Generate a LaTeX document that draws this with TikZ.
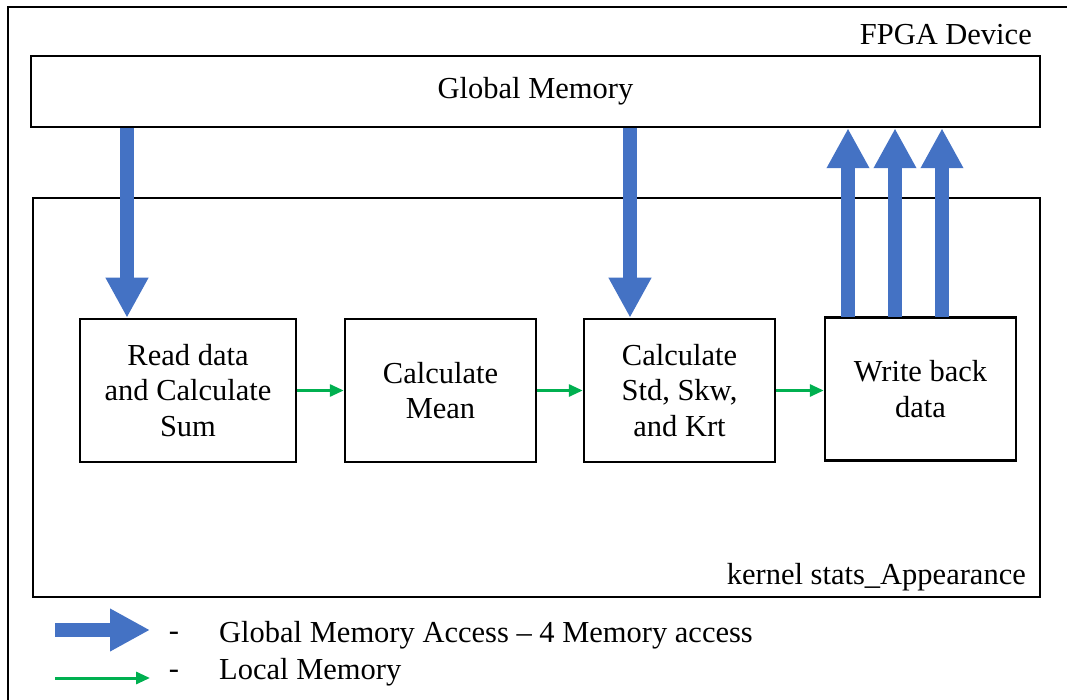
\documentclass[tikz,border=0pt]{standalone}
\usepackage{fontspec}
\setmainfont{Liberation Serif}
\newfontfamily\diagfont{Liberation Serif}
\usetikzlibrary{arrows.meta}
\definecolor{gblue}{HTML}{4472C4}
\definecolor{lgreen}{HTML}{00B050}
\begin{document}
\begin{tikzpicture}[x=1pt,y=-1pt,
  every node/.style={font=\diagfont\fontsize{30.5}{35.5}\selectfont, inner sep=0pt},
  frame/.style={draw=black, line width=2.5pt},
  block/.style={frame, align=center, minimum width=214pt, minimum height=143pt},
  midblock/.style={frame, align=center, minimum width=191pt, minimum height=143pt},
  bigarrow/.style={draw=gblue, line width=14pt, -{Triangle[width=40pt,length=40pt]}},
  localarrow/.style={draw=lgreen, line width=3pt, -{Triangle[width=12pt,length=14pt]}}]
\useasboundingbox (0,0) rectangle (1067,700);
\begin{scope}
\clip (0,0) rectangle (1067,700);
\draw[draw=black, line width=2.5pt] (8,7) rectangle (1090,720);
\end{scope}
\node[anchor=east] (fpga) at (1032,35) {FPGA Device};
\node[frame, minimum width=1009pt, minimum height=71pt] (gm) at (535.5,91.5) {\raisebox{-2pt}{Global Memory}};
\node[frame, minimum width=1007pt, minimum height=399pt] (kern) at (536.5,397.5) {};
\node[anchor=east] (klabel) at (1026,577) {kernel stats\_Appearance};
\node[block, minimum width=216pt] (read) at (188,390.5) {Read data\\and Calculate\\Sum};
\node[midblock] (mean) at (440.5,390.5) {Calculate\\Mean};
\node[midblock] (std) at (679.5,390.5) {Calculate\\Std, Skw,\\and Krt};
\node[midblock] (write) at (920.5,389) {Write back\\data};
% global memory accesses
\coordinate (d1) at (127,128);
\coordinate (d2) at (630,128);
\draw[bigarrow] (d1) -- (d1 |- read.north);
\draw[bigarrow] (d2) -- (d2 |- std.north);
\coordinate (u1) at (848,317);
\coordinate (u2) at (895,317);
\coordinate (u3) at (942,317);
\draw[bigarrow] (u1) -- (u1 |- gm.south);
\draw[bigarrow] (u2) -- (u2 |- gm.south);
\draw[bigarrow] (u3) -- (u3 |- gm.south);
% local memory
\draw[localarrow] (read.east) -- (mean.west);
\draw[localarrow] (mean.east) -- (std.west);
\draw[localarrow] (std.east) -- (std.east -| write.west);
% legend
\coordinate (lb1) at (55,630);
\coordinate (lb2) at (150,630);
\coordinate (lg1) at (55,678);
\coordinate (lg2) at (150,678);
\draw[bigarrow] (lb1) -- (lb2);
\draw[localarrow] (lg1) -- (lg2);
\node (dash1) at (174,636) {-};
\node[anchor=west] (leg1) at (219,635) {Global Memory Access – 4 Memory access};
\node (dash2) at (174,674) {-};
\node[anchor=west] (leg2) at (219,672) {Local Memory};
\end{tikzpicture}
\end{document}
